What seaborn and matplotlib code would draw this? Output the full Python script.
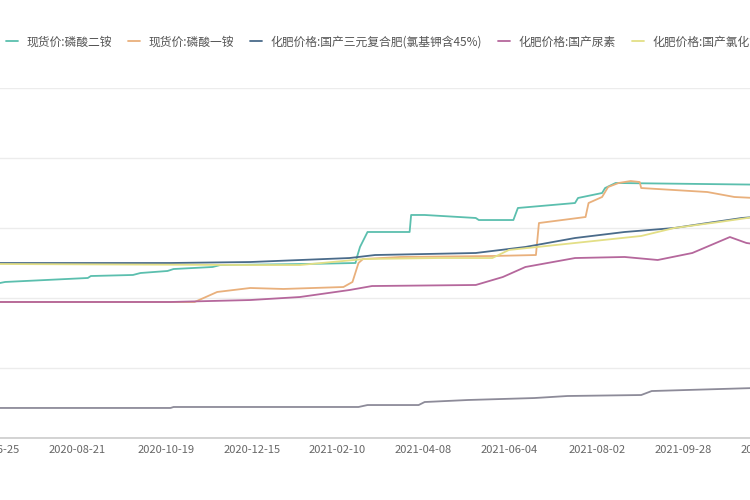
import pandas as pd
import matplotlib
matplotlib.use("Agg")
import matplotlib.pyplot as plt
import matplotlib.dates as mdates
import seaborn as sns

# --- data (yuan/t) ---
dap_dates = ["2020-06-24", "2020-07-04", "2020-08-28", "2020-08-30", "2020-09-27", "2020-10-02",
             "2020-10-20", "2020-10-24", "2020-11-19", "2020-11-24", "2021-01-20", "2021-02-22",
             "2021-02-23", "2021-02-25", "2021-03-02", "2021-03-30", "2021-03-31", "2021-04-09",
             "2021-05-13", "2021-05-15", "2021-06-07", "2021-06-10", "2021-07-18", "2021-07-20",
             "2021-08-05", "2021-08-07", "2021-08-14", "2021-11-14"]
dap_vals = [2186, 2229, 2286, 2314, 2329, 2357,
            2386, 2414, 2443, 2471, 2486, 2500,
            2586, 2729, 2943, 2943, 3186, 3186,
            3143, 3114, 3114, 3286, 3357, 3429,
            3500, 3571, 3643, 3620]

map_dates = ["2020-06-24", "2020-11-07", "2020-11-22", "2020-12-14", "2021-01-05", "2021-02-14",
             "2021-02-20", "2021-02-24", "2021-02-27", "2021-03-24", "2021-05-24", "2021-06-22",
             "2021-06-24", "2021-07-25", "2021-07-27", "2021-08-05", "2021-08-09", "2021-08-16",
             "2021-08-24", "2021-08-30", "2021-08-31", "2021-10-14", "2021-11-01", "2021-11-14"]
map_vals = [1943, 1943, 2086, 2143, 2129, 2157,
            2229, 2500, 2557, 2586, 2600, 2614,
            3071, 3157, 3357, 3443, 3586, 3643,
            3671, 3657, 3571, 3514, 3443, 3429]

npk_dates = ["2020-06-24", "2020-10-22", "2020-12-14", "2021-02-18", "2021-03-07", "2021-05-13",
             "2021-06-15", "2021-07-18", "2021-08-20", "2021-09-22", "2021-10-14", "2021-11-06",
             "2021-11-14"]
npk_vals = [2500, 2500, 2514, 2571, 2614, 2643,
            2729, 2857, 2943, 3000, 3071, 3143,
            3157]

urea_dates = ["2020-06-24", "2020-10-22", "2020-12-14", "2021-01-16", "2021-02-18", "2021-03-05",
              "2021-05-13", "2021-05-31", "2021-06-15", "2021-07-18", "2021-08-20", "2021-09-11",
              "2021-10-04", "2021-10-29", "2021-11-09", "2021-11-14"]
urea_vals = [1943, 1943, 1971, 2014, 2114, 2171,
             2186, 2300, 2443, 2571, 2586, 2543,
             2643, 2871, 2786, 2771]

kcl_dates = ["2020-06-24", "2020-12-14", "2021-01-16", "2021-02-28", "2021-04-18", "2021-05-24",
             "2021-06-04", "2021-07-18", "2021-08-31", "2021-09-22", "2021-10-22", "2021-11-14"]
kcl_vals = [2486, 2471, 2471, 2557, 2571, 2571,
            2686, 2786, 2886, 3000, 3086, 3157]

ssp_dates = ["2020-06-24", "2020-10-22", "2020-10-24", "2021-02-24", "2021-03-02", "2021-04-05",
             "2021-04-09", "2021-05-08", "2021-06-21", "2021-07-13", "2021-08-31", "2021-09-07",
             "2021-11-14"]
ssp_vals = [429, 429, 443, 443, 471, 471,
            514, 543, 571, 600, 614, 671,
            714]

series_names = ["现货价:磷酸二铵", "现货价:磷酸一铵", "化肥价格:国产三元复合肥(氯基钾含45%)",
                "化肥价格:国产尿素", "化肥价格:国产氯化钾", "化肥价格:国产过磷酸钙"]
series_colors = ["#5bbfae", "#e9b07c", "#4a6b8a", "#b5679c", "#e3df86", "#8d8b99"]

tick_dates = ["2020-06-25", "2020-08-21", "2020-10-19", "2020-12-15", "2021-02-10",
              "2021-04-08", "2021-06-04", "2021-08-02", "2021-09-28", "2021-11-24"]

# long-form table for seaborn
frames = []
for name, d, v in zip(series_names,
                      [dap_dates, map_dates, npk_dates, urea_dates, kcl_dates, ssp_dates],
                      [dap_vals, map_vals, npk_vals, urea_vals, kcl_vals, ssp_vals]):
    frames.append(pd.DataFrame({"date": pd.to_datetime(d), "price": v, "series": name}))
df = pd.concat(frames, ignore_index=True)

sns.set_theme(style="white")
plt.rcParams["font.family"] = ["Noto Sans CJK SC", "DejaVu Sans"]

fig = plt.figure(figsize=(7.5, 5), dpi=100)
ax = fig.add_axes([-0.0533, 0.124, 1.1067, 0.70])

sns.lineplot(data=df, x="date", y="price", hue="series", hue_order=series_names,
             palette=dict(zip(series_names, series_colors)), estimator=None,
             linewidth=1.3, ax=ax)

ax.set_xlim(pd.Timestamp("2020-06-04"), pd.Timestamp("2021-12-08"))
ax.set_ylim(0, 5000)
ax.set_yticks([0, 1000, 2000, 3000, 4000, 5000])
ax.yaxis.grid(True, color="#ececec", linewidth=1)
ax.xaxis.grid(False)
ax.set_xticks(pd.to_datetime(tick_dates))
ax.xaxis.set_major_formatter(mdates.DateFormatter("%Y-%m-%d"))
ax.tick_params(axis="x", labelsize=8, colors="#666666", length=0, pad=5)
ax.tick_params(axis="y", labelleft=False, length=0)
ax.set_xlabel("")
ax.set_ylabel("")
for side in ["top", "right", "left"]:
    ax.spines[side].set_visible(False)
ax.spines["bottom"].set_color("#cccccc")
ax.spines["bottom"].set_linewidth(1.2)

handles, labels = ax.get_legend_handles_labels()
ax.get_legend().remove()
fig.legend(handles, labels, loc="center left", bbox_to_anchor=(0.008, 0.916),
           ncol=6, frameon=False, fontsize=8.5, labelcolor="#555555",
           handlelength=1.0, handletextpad=0.7, columnspacing=1.4, borderpad=0,
           borderaxespad=0)

plt.savefig("out.png", dpi=100)
